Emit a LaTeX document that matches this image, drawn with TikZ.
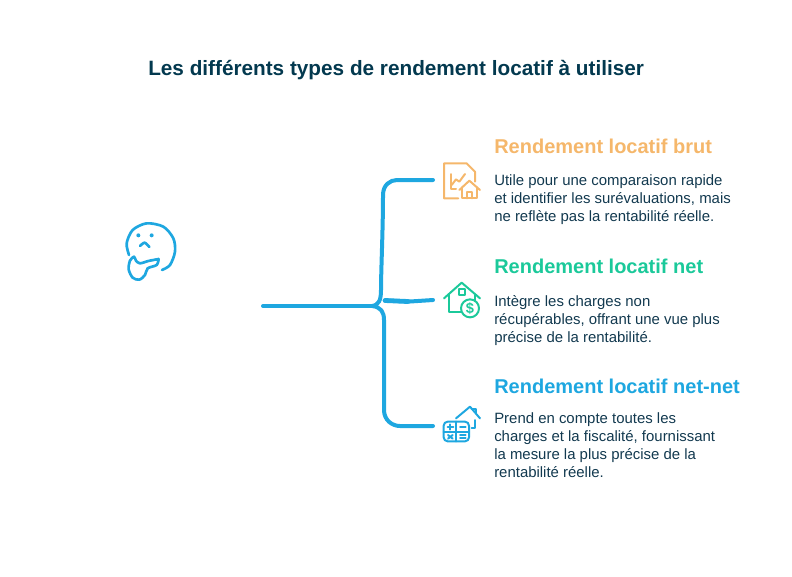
\documentclass[tikz,border=0pt]{standalone}
\usepackage{fontspec}
\setmainfont{Liberation Sans}
\usepackage{xcolor}
\usetikzlibrary{positioning}
\definecolor{inktitle}{HTML}{03394F}
\definecolor{inkbody}{HTML}{12394F}
\definecolor{inkorange}{HTML}{F5B76B}
\definecolor{inkgreen}{HTML}{1BC99A}
\definecolor{inkblue}{HTML}{1EA7E0}
\tikzset{
headnode/.style={inner sep=0pt,anchor=base west,font=\fontsize{15}{18}\selectfont\bfseries},
bodynode/.style={inner sep=0pt,anchor=north west,align=left,text=inkbody,font=\fontsize{11.2}{13.5}\selectfont},
branch/.style={draw=inkblue,line width=3pt,line cap=round,line join=round},
iconline/.style={line width=1.5pt,line cap=round,line join=round},
zoomed/.style={x=0.25pt,y=-0.25pt},
}
\begin{document}
\begin{tikzpicture}[x=0.75pt,y=-0.75pt]
\useasboundingbox (0,0) rectangle (792,576);
%Nodes
\node[headnode,text=inktitle,font=\fontsize{15.56}{18}\selectfont\bfseries] (title) at (148,75) {Les différents types de rendement locatif à utiliser};
\node[headnode,text=inkorange] (brut) at (494,153.5) {Rendement locatif brut};
\node[bodynode] (bruttext) [below=16pt of brut.base west,anchor=north west] {Utile pour une comparaison rapide\\et identifier les surévaluations, mais\\ne reflète pas la rentabilité réelle.};
\node[headnode,text=inkgreen] (net) at (494,273.5) {Rendement locatif net};
\node[bodynode] (nettext) [below=16pt of net.base west,anchor=north west] {Intègre les charges non\\récupérables, offrant une vue plus\\précise de la rentabilité.};
\node[headnode,text=inkblue] (netnet) at (494,393.5) {Rendement locatif net-net};
\node[bodynode] (netnettext) [below=14pt of netnet.base west,anchor=north west] {Prend en compte toutes les\\charges et la fiscalité, fournissant\\la mesure la plus précise de la\\rentabilité réelle.};
\coordinate (root) at (263,306);
\coordinate (fork) at (372,306);
\coordinate (midstart) at (385,300.5);
\coordinate (topend) at (433,180);
\coordinate (midend) at (433,300);
\coordinate (lowend) at (433,426);

%Lines
\draw[branch] (root) -- (fork);
\draw[branch] (fork) .. controls (379,305) and (381,300) .. (381,290) .. controls (381,270) and (383,230) .. (383,195) .. controls (383,185) and (390,180) .. (397,180) -- (topend);
\draw[branch] (midstart) -- (410,301.5) -- (midend);
\draw[branch,line width=3.6pt] (midstart) -- (408,301.5);
\draw[branch] (fork) .. controls (381,307) and (384,312) .. (384,320) -- (384,410) .. controls (384,420) and (392,426) .. (400,426) -- (lowend);

%Thinking face
\begin{scope}[shift={(110,210)},zoomed,draw=inkblue,iconline,line width=2pt]
\draw plot[smooth] coordinates {(57,135) (50,100) (68,60) (110,40) (160,50) (190,85) (195,125) (180,165) (156,180)};
\fill[inkblue] (85,76) circle (6);
\fill[inkblue] (125,76) circle (6);
\draw plot[smooth] coordinates {(90,108) (104,98) (118,111)};
\draw plot[smooth] coordinates {(146,147) (115,153) (90,160) (78,152) (72,140) (60,152) (56,178) (68,203) (88,209) (105,195) (113,175) (140,165) (146,147)};
\end{scope}

%Icon one
\begin{scope}[shift={(430,150)},zoomed,draw=inkorange,iconline]
\draw (135,95) -- (135,65) -- (110,40) -- (42,40) -- (42,145) -- (85,145);
\draw (62,72) -- (62,118) -- (78,118);
\draw (65,105) -- (78,88) -- (88,95) -- (105,72);
\draw (88,120) -- (118,92) -- (150,120);
\draw (97,112) -- (97,145) -- (140,145) -- (140,112);
\draw (110,145) -- (110,125) -- (125,125) -- (125,145);
\end{scope}

%Icon two
\begin{scope}[shift={(430,270)},zoomed,draw=inkgreen,iconline]
\draw (42,85) -- (95,38) -- (150,85);
\draw (58,72) -- (58,125) -- (92,125);
\draw (135,75) -- (135,92);
\draw (86,58) rectangle (104,75);
\draw (120,115) circle (27);
\node[text=inkgreen,font=\fontsize{11}{12}\selectfont\bfseries] (dollar) at (120,115) {\$};
\end{scope}

%Icon three
\begin{scope}[shift={(430,395)},zoomed,draw=inkblue,iconline]
\draw (78,70) -- (120,35) -- (150,70);
\draw (125,42) -- (138,42) -- (138,55);
\draw (135,75) -- (135,100) -- (125,100);
\draw[rounded corners=3pt] (41,80) rectangle (117,139);
\draw (79,80) -- (79,139);
\draw (41,110) -- (117,110);
\draw (53,96) -- (70,96);
\draw (61,88) -- (61,104);
\draw (90,96) -- (107,96);
\draw (54,120) -- (68,131);
\draw (68,120) -- (54,131);
\draw (90,121) -- (107,121);
\draw (90,130) -- (107,130);
\end{scope}
\end{tikzpicture}
\end{document}
